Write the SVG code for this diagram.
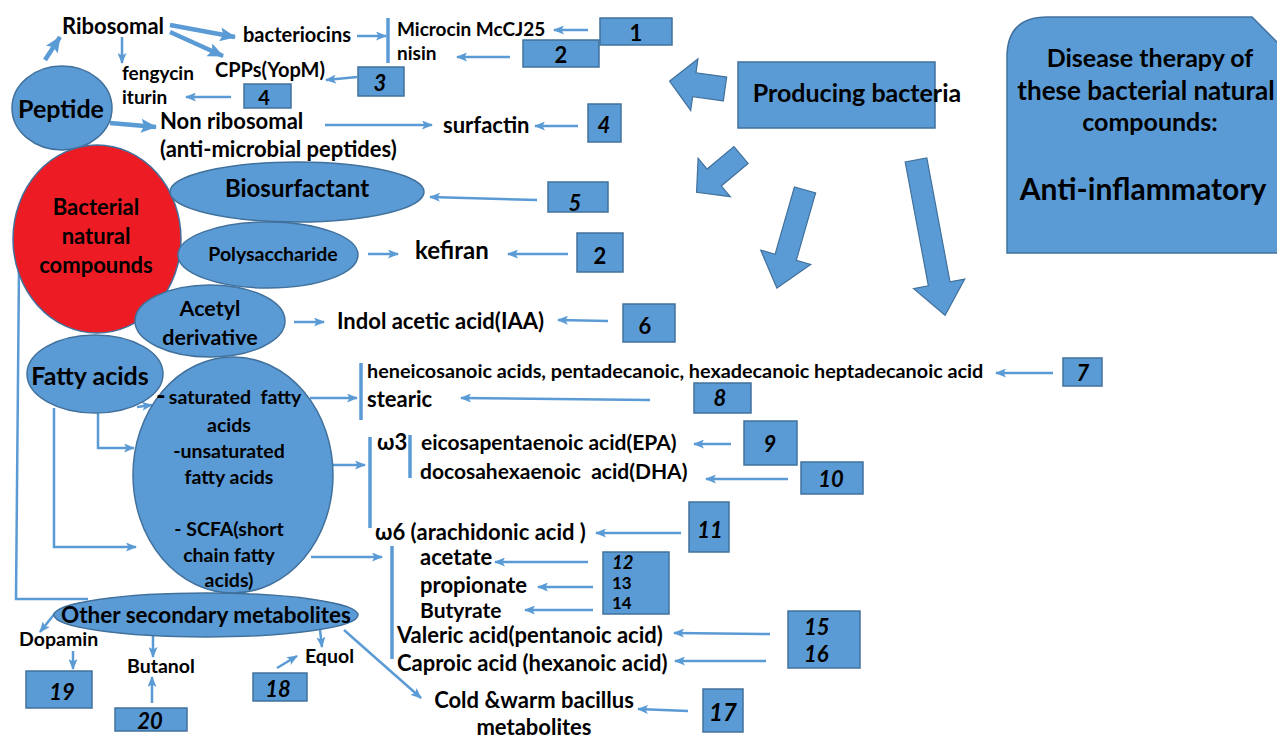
<svg xmlns="http://www.w3.org/2000/svg" width="1277" height="738" viewBox="0 0 1277 738">
<defs>
<marker id="ah" markerUnits="userSpaceOnUse" markerWidth="11" markerHeight="9" refX="10" refY="4.5" orient="auto"><path d="M0,0 L11,4.5 L0,9 L2.5,4.5 z" fill="#5B9BD5"/></marker>
<marker id="ahb" markerUnits="userSpaceOnUse" markerWidth="16" markerHeight="14" refX="15" refY="7" orient="auto"><path d="M0,0 L16,7 L0,14 L3,7 z" fill="#5B9BD5"/></marker>
<style>
.n{fill:#5B9BD5;stroke:#41719C;stroke-width:1.5}
.r{fill:#ED1C24;stroke:#41719C;stroke-width:1.5}
.bx{fill:#5B9BD5;stroke:#41719C;stroke-width:1.5}
.c{fill:none;stroke:#5B9BD5;stroke-width:2.5}
.ca{fill:none;stroke:#5B9BD5;stroke-width:2.5;marker-end:url(#ah)}
.cb{fill:none;stroke:#5B9BD5;stroke-width:4.5;marker-end:url(#ahb)}
.bar{fill:none;stroke:#5B9BD5;stroke-width:3.5}
.fat{fill:#5B9BD5;stroke:#41719C;stroke-width:1.2}
text{font-family:Lato,"Liberation Sans",sans-serif;font-weight:bold;fill:#000}
.m{text-anchor:middle}
.i{font-style:italic}
</style>
</defs>

<g id="connectors">
<line class="cb" x1="45" y1="60" x2="60" y2="37"/>
<line class="cb" x1="170" y1="25" x2="235" y2="37"/>
<line class="cb" x1="170" y1="32" x2="223" y2="56"/>
<line class="ca" x1="122" y1="37" x2="122" y2="63"/>
<line class="ca" x1="357" y1="36" x2="386" y2="36"/>
<line class="bar" x1="388" y1="18" x2="388" y2="63"/>
<line class="ca" x1="588" y1="30" x2="554" y2="30"/>
<line class="ca" x1="510" y1="57" x2="457" y2="57"/>
<line class="ca" x1="357" y1="77" x2="326" y2="80"/>
<line class="ca" x1="231" y1="97" x2="186" y2="97"/>
<line class="cb" x1="110" y1="123" x2="156" y2="127"/>
<line class="ca" x1="325" y1="125" x2="432" y2="125"/>
<line class="ca" x1="578" y1="126" x2="535" y2="126"/>
<line class="ca" x1="537" y1="200" x2="430" y2="197"/>
<line class="ca" x1="368" y1="254" x2="398" y2="254"/>
<line class="ca" x1="568" y1="254" x2="508" y2="254"/>
<line class="ca" x1="294" y1="322" x2="324" y2="322"/>
<line class="ca" x1="608" y1="321" x2="558" y2="320"/>
<line class="bar" x1="361" y1="363" x2="361" y2="420"/>
<line class="ca" x1="1053" y1="373" x2="996" y2="373"/>
<line class="ca" x1="650" y1="400" x2="461" y2="398"/>
<line class="ca" x1="310" y1="398" x2="357" y2="398"/>
<line class="bar" x1="370" y1="437" x2="370" y2="528"/>
<line class="ca" x1="333" y1="465" x2="365" y2="465"/>
<line class="bar" x1="410" y1="435" x2="410" y2="478"/>
<line class="ca" x1="731" y1="444" x2="694" y2="444"/>
<line class="ca" x1="788" y1="479" x2="706" y2="479"/>
<line class="ca" x1="681" y1="533" x2="596" y2="533"/>
<line class="ca" x1="311" y1="557" x2="382" y2="557"/>
<line class="bar" x1="392" y1="546" x2="392" y2="659"/>
<line class="ca" x1="588" y1="562" x2="495" y2="562"/>
<line class="ca" x1="593" y1="587" x2="538" y2="587"/>
<line class="ca" x1="593" y1="610" x2="525" y2="610"/>
<line class="ca" x1="770" y1="634" x2="674" y2="633"/>
<line class="ca" x1="766" y1="661" x2="675" y2="661"/>
<line class="ca" x1="344" y1="630" x2="421" y2="698"/>
<line class="ca" x1="688" y1="711" x2="638" y2="709"/>
<polyline class="c" points="19,268 16,599 88,599"/>
<line class="ca" x1="137" y1="407" x2="152" y2="405"/>
<polyline class="ca" points="98,413 98,448 134,448"/>
<polyline class="ca" points="54,408 54,547 136,547"/>
<line class="ca" x1="56" y1="612" x2="40" y2="632"/>
<line class="ca" x1="73" y1="651" x2="73" y2="669"/>
<line class="ca" x1="153" y1="635" x2="153" y2="657"/>
<line class="ca" x1="152" y1="703" x2="152" y2="677"/>
<line class="ca" x1="320" y1="630" x2="322" y2="647"/>
<line class="ca" x1="277" y1="668" x2="297" y2="656"/>
</g>

<g id="block-arrows">
<polygon class="fat" transform="translate(725,89) rotate(188)" points="0,-12 31,-12 31,-26 56,0 31,26 31,12 0,12"/>
<polygon class="fat" transform="translate(741,155) rotate(140)" points="0,-11 35,-11 35,-25 58,0 35,25 35,11 0,11"/>
<polygon class="fat" transform="translate(805,190) rotate(106)" points="0,-11 70,-11 70,-26 102,0 70,26 70,11 0,11"/>
<polygon class="fat" transform="translate(916,160) rotate(79.4)" points="0,-11 126,-11 126,-26 158,0 126,26 126,11 0,11"/>
</g>

<g id="peptide"><ellipse class="n" cx="62" cy="108" rx="50" ry="42"/><text class="m" x="61" y="118" font-size="25">Peptide</text></g>
<g id="ribosomal"><text x="62" y="34" font-size="22">Ribosomal</text></g>
<g id="bacteriocins"><text x="243" y="42" font-size="20">bacteriocins</text></g>
<g id="microcin"><text x="397" y="36" font-size="19">Microcin McCJ25</text><text x="397" y="60" font-size="19">nisin</text></g>
<g id="cpps"><text x="215" y="77" font-size="20">CPPs(YopM)</text></g>
<g id="fengycin"><text x="122" y="80" font-size="19">fengycin</text><text x="122" y="104" font-size="19">iturin</text></g>
<g id="nonribosomal"><text x="160" y="129" font-size="22">Non ribosomal</text><text x="160" y="157" font-size="22">(anti-microbial peptides)</text></g>
<g id="surfactin"><text x="443" y="133" font-size="22">surfactin</text></g>

<g id="bacterial"><ellipse class="r" cx="97" cy="239" rx="84" ry="94"/><text class="m" x="96" y="215" font-size="22">Bacterial</text><text class="m" x="96" y="244" font-size="22">natural</text><text class="m" x="96" y="273" font-size="22">compounds</text></g>
<g id="biosurfactant"><ellipse class="n" cx="297" cy="192" rx="127" ry="30"/><text class="m" x="297" y="197" font-size="24">Biosurfactant</text></g>
<g id="polysaccharide"><ellipse class="n" cx="268" cy="255" rx="90" ry="33"/><text class="m" x="273" y="261" font-size="19.5">Polysaccharide</text></g>
<g id="kefiran"><text x="415" y="259" font-size="24">kefiran</text></g>
<g id="acetyl"><ellipse class="n" cx="210" cy="321" rx="75" ry="36"/><text class="m" x="210" y="316" font-size="21.5">Acetyl</text><text class="m" x="210" y="345" font-size="21.5">derivative</text></g>
<g id="indol"><text x="337" y="329" font-size="22">Indol acetic acid(IAA)</text></g>

<g id="fatty-types"><ellipse class="n" cx="233" cy="475" rx="100" ry="118"/>
<text x="156" y="405" font-size="26">-</text>
<text class="m" x="235" y="404" font-size="19.5">saturated&#160; fatty</text>
<text class="m" x="229" y="432" font-size="19.5">acids</text>
<text class="m" x="229" y="458" font-size="19.5">-unsaturated</text>
<text class="m" x="229" y="484" font-size="19.5">fatty acids</text>
<text class="m" x="229" y="536" font-size="19.5">- SCFA(short</text>
<text class="m" x="229" y="562" font-size="19.5">chain fatty</text>
<text class="m" x="229" y="587" font-size="19.5">acids)</text></g>
<g id="fatty-acids"><ellipse class="n" cx="95" cy="374" rx="68" ry="39"/><text class="m" x="90" y="385" font-size="25">Fatty acids</text></g>

<g id="saturated"><text x="367" y="378" font-size="19.8">heneicosanoic acids, pentadecanoic, hexadecanoic heptadecanoic acid</text><text x="367" y="407" font-size="22">stearic</text></g>
<g id="omega3"><text x="377" y="450" font-size="22">ω3</text><text x="421" y="450" font-size="21">eicosapentaenoic acid(EPA)</text><text x="420" y="479" font-size="21">docosahexaenoic&#160; acid(DHA)</text></g>
<g id="omega6"><text x="375" y="540" font-size="22">ω6 (arachidonic acid )</text></g>
<g id="scfa"><text x="420" y="565" font-size="22">acetate</text><text x="420" y="593" font-size="22">propionate</text><text x="420" y="618" font-size="21">Butyrate</text><text x="397" y="643" font-size="22">Valeric acid(pentanoic acid)</text><text x="397" y="671" font-size="22">Caproic acid (hexanoic acid)</text></g>
<g id="cold"><text class="m" x="534" y="708" font-size="22">Cold &amp;warm bacillus</text><text class="m" x="534" y="735" font-size="22">metabolites</text></g>

<g id="other"><ellipse class="n" cx="206" cy="615" rx="152" ry="22"/><text class="m" x="206" y="623" font-size="22.5">Other secondary metabolites</text></g>
<g id="dopamin"><text x="19" y="646" font-size="19.5">Dopamin</text></g>
<g id="butanol"><text x="127" y="673" font-size="19.5">Butanol</text></g>
<g id="equol"><text x="305" y="663" font-size="19.5">Equol</text></g>

<g id="producing"><rect class="bx" x="738" y="62" width="197" height="66"/><text class="m" x="857" y="102" font-size="25">Producing bacteria</text></g>
<g id="therapy"><path class="bx" d="M1007,253 L1007,57 Q1007,17 1047,17 L1252,17 L1290,55 L1290,253 Z"/>
<text class="m" x="1150" y="67" font-size="25">Disease therapy of</text>
<text class="m" x="1146" y="100" font-size="26">these bacterial natural</text>
<text class="m" x="1150" y="131" font-size="25">compounds:</text>
<text class="m" x="1143" y="200" font-size="30">Anti-inflammatory</text></g>

<g id="refs">
<rect class="bx" x="600" y="18" width="72" height="27"/><text class="m" x="636" y="41" font-size="22">1</text>
<rect class="bx" x="523" y="40" width="76" height="27"/><text class="m" x="561" y="63" font-size="22">2</text>
<rect class="bx" x="358" y="67" width="46" height="29"/><text class="m i" x="380" y="91" font-size="22">3</text>
<rect class="bx" x="244" y="84" width="47" height="24"/><text class="m" x="264" y="105" font-size="20">4</text>
<rect class="bx" x="588" y="104" width="33" height="38"/><text class="m i" x="604" y="133" font-size="22">4</text>
<rect class="bx" x="548" y="182" width="60" height="30"/><text class="m i" x="575" y="211" font-size="22">5</text>
<rect class="bx" x="577" y="233" width="46" height="39"/><text class="m" x="600" y="264" font-size="22">2</text>
<rect class="bx" x="623" y="304" width="52" height="38"/><text class="m" x="645" y="334" font-size="22">6</text>
<rect class="bx" x="1063" y="358" width="39" height="28"/><text class="m i" x="1083" y="381" font-size="22">7</text>
<rect class="bx" x="694" y="383" width="57" height="30"/><text class="m i" x="720" y="406" font-size="22">8</text>
<rect class="bx" x="744" y="421" width="53" height="44"/><text class="m i" x="770" y="452" font-size="22">9</text>
<rect class="bx" x="801" y="462" width="62" height="32"/><text class="m i" x="831" y="487" font-size="22">10</text>
<rect class="bx" x="689" y="502" width="40" height="50"/><text class="m i" x="710" y="538" font-size="22">11</text>
<rect class="bx" x="603" y="552" width="66" height="62"/><text class="i" x="612" y="569" font-size="18.5">12</text><text x="612" y="589" font-size="17">13</text><text x="612" y="609" font-size="17">14</text>
<rect class="bx" x="788" y="611" width="72" height="57"/><text class="i" x="804" y="635" font-size="22">15</text><text class="i" x="804" y="662" font-size="22">16</text>
<rect class="bx" x="703" y="689" width="40" height="43"/><text class="m i" x="723" y="721" font-size="24">17</text>
<rect class="bx" x="253" y="673" width="54" height="28"/><text class="m i" x="278" y="697" font-size="22">18</text>
<rect class="bx" x="26" y="671" width="66" height="37"/><text class="m i" x="62" y="700" font-size="22">19</text>
<rect class="bx" x="115" y="708" width="72" height="23"/><text class="m i" x="150" y="729" font-size="22">20</text>
</g>
</svg>
